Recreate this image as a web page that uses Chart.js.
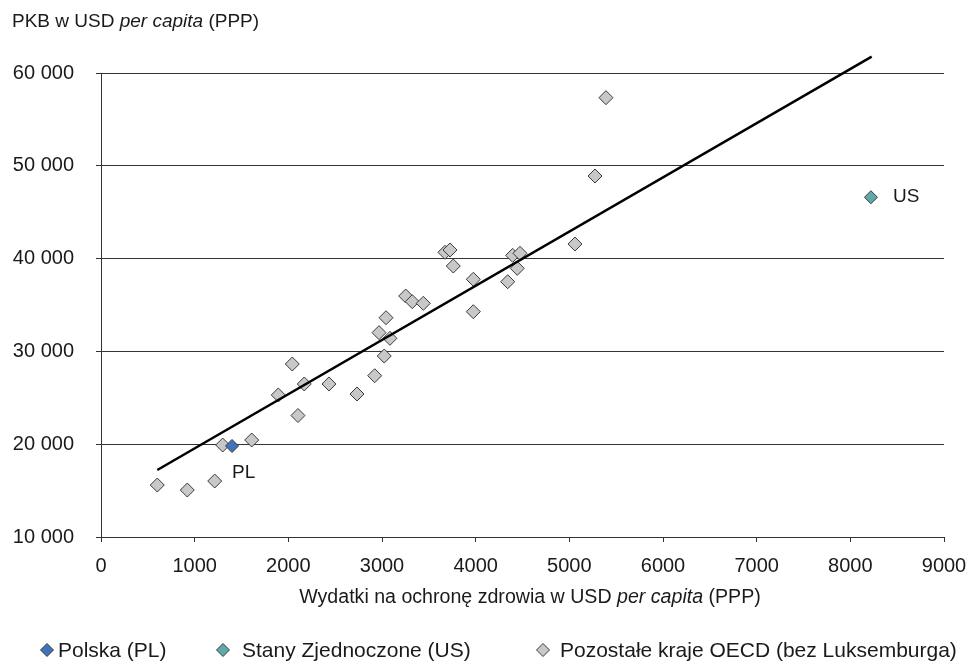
<!DOCTYPE html>
<html><head><meta charset="utf-8">
<script src="https://cdn.jsdelivr.net/npm/chart.js@4.4.0/dist/chart.umd.min.js"></script>
<style>html,body{margin:0;padding:0;background:#fff;}#wrap{width:974px;height:671px;position:relative;}</style>
</head><body><div id="wrap"><canvas id="c"></canvas></div>
<script>
// ---- data ----
const seriesNames = ['Polska (PL)', 'Stany Zjednoczone (US)', 'Pozostałe kraje OECD (bez Luksemburga)'];
const pointLabels = ['PL', 'US'];
const plX = [1399];
const plY = [19810];
const usX = [8220];
const usY = [46610];
const otherX = [601, 921, 1214, 1299, 1609, 1893, 2042, 2170, 2103, 2434, 2733, 2922, 3024, 2968, 3085, 3043, 3253, 3323, 3441, 3975, 3975, 3672, 3726, 3761, 4342, 4395, 4473, 4444, 5060, 5274, 5391];
const otherY = [15600, 15060, 16030, 19910, 20450, 25300, 28640, 26490, 23090, 26490, 25410, 27380, 29500, 32020, 31410, 33630, 35970, 35360, 35180, 37770, 34280, 40680, 40930, 39200, 37510, 40350, 40570, 38950, 41570, 48900, 57340];
const trendX = [601, 8228];
const trendY = [17220, 61756];
const xTicks = [0, 1000, 2000, 3000, 4000, 5000, 6000, 7000, 8000, 9000];
const xTickLabels = ['0', '1000', '2000', '3000', '4000', '5000', '6000', '7000', '8000', '9000'];
const yTicks = [10000, 20000, 30000, 40000, 50000, 60000];
const yTickLabels = ['10 000', '20 000', '30 000', '40 000', '50 000', '60 000'];
const yTitleParts = [['PKB w USD ', 'normal'], ['per capita', 'italic'], [' (PPP)', 'normal']];
const xTitleParts = [['Wydatki na ochronę zdrowia w USD ', 'normal'], ['per capita', 'italic'], [' (PPP)', 'normal']];

// ---- style ----
const FONT = "'Liberation Sans', Arial, sans-serif";
const TXT = '#1a1a1a';
const colPL = '#3F74BA', colUS = '#5FAAA8', colOther = '#C8C8C8', colBorder = '#3a3a3a';

const zip = (xs, ys) => xs.map((x, i) => ({x, y: ys[i]}));

function drawParts(ctx, parts, x, y, size, align) {
  ctx.save();
  ctx.textBaseline = 'middle';
  ctx.fillStyle = TXT;
  let total = 0;
  const widths = parts.map(p => { ctx.font = `${p[1]} ${size}px ${FONT}`; const w = ctx.measureText(p[0]).width; total += w; return w; });
  let cx = align === 'center' ? x - total / 2 : x;
  ctx.textAlign = 'left';
  parts.forEach((p, i) => { ctx.font = `${p[1]} ${size}px ${FONT}`; ctx.fillText(p[0], cx, y); cx += widths[i]; });
  ctx.restore();
}
function diamond(ctx, x, y, r, fill) {
  ctx.beginPath();
  ctx.moveTo(x, y - r); ctx.lineTo(x + r, y); ctx.lineTo(x, y + r); ctx.lineTo(x - r, y); ctx.closePath();
  ctx.fillStyle = fill; ctx.fill();
  ctx.lineWidth = 1; ctx.strokeStyle = colBorder; ctx.stroke();
}

const extras = {
  id: 'extras',
  afterDraw(chart) {
    const ctx = chart.ctx, xs = chart.scales.x, ys = chart.scales.y;
    drawParts(ctx, yTitleParts, 12, 22, 19, 'left');
    drawParts(ctx, xTitleParts, 530, 598, 19.6, 'center');
    // point labels
    ctx.save();
    ctx.font = `19px ${FONT}`; ctx.fillStyle = TXT; ctx.textBaseline = 'middle'; ctx.textAlign = 'left';
    ctx.fillText(pointLabels[0], xs.getPixelForValue(plX[0]) + 0, ys.getPixelForValue(plY[0]) + 27);
    ctx.fillText(pointLabels[1], xs.getPixelForValue(usX[0]) + 22, ys.getPixelForValue(usY[0]));
    ctx.restore();
    // legend
    const leg = [[47, 58, colPL], [223, 242, colUS], [543, 560, colOther]];
    ctx.save();
    leg.forEach((l, i) => {
      diamond(ctx, l[0], 650, 6.5, l[2]);
      ctx.font = `21px ${FONT}`; ctx.fillStyle = TXT; ctx.textBaseline = 'middle'; ctx.textAlign = 'left';
      ctx.fillText(seriesNames[i], l[1], 651);
    });
    ctx.restore();
  }
};

new Chart(document.getElementById('c'), {
  type: 'scatter',
  data: {
    datasets: [
      {label: 'trend', type: 'line', data: zip(trendX, trendY), borderColor: '#000', borderWidth: 2.5, pointRadius: 0, fill: false, clip: false, order: 0},
      {label: seriesNames[0], data: zip(plX, plY), pointStyle: 'rectRot', pointRadius: 6.5, backgroundColor: colPL, borderColor: colBorder, borderWidth: 1, order: 1},
      {label: seriesNames[1], data: zip(usX, usY), pointStyle: 'rectRot', pointRadius: 6.5, backgroundColor: colUS, borderColor: colBorder, borderWidth: 1, order: 2},
      {label: seriesNames[2], data: zip(otherX, otherY), pointStyle: 'rectRot', pointRadius: 7, backgroundColor: colOther, borderColor: colBorder, borderWidth: 1, order: 3}
    ]
  },
  options: {
    responsive: true, maintainAspectRatio: false, animation: false,
    layout: {padding: {left: 0, right: 30, top: 73, bottom: 94}},
    plugins: {legend: {display: false}, tooltip: {enabled: false}},
    scales: {
      x: {
        type: 'linear', min: xTicks[0], max: xTicks[xTicks.length - 1],
        afterBuildTicks: s => { s.ticks = xTicks.map(v => ({value: v})); },
        afterFit: s => { s.height = 40; s.paddingLeft = 0; s.paddingRight = 0; },
        ticks: {callback: (v) => xTickLabels[xTicks.indexOf(v)], color: TXT, font: {family: FONT, size: 20}, padding: 12, maxRotation: 0, autoSkip: false},
        grid: {drawOnChartArea: false, drawTicks: true, tickLength: 5, color: '#333'},
        border: {color: '#333', width: 1}
      },
      y: {
        type: 'linear', min: yTicks[0], max: yTicks[yTicks.length - 1],
        afterBuildTicks: s => { s.ticks = yTicks.map(v => ({value: v})); },
        afterFit: s => { s.width = 101; s.paddingTop = 0; s.paddingBottom = 0; },
        ticks: {callback: (v) => yTickLabels[yTicks.indexOf(v)], color: TXT, font: {family: FONT, size: 20}, padding: 22, autoSkip: false},
        grid: {color: '#333', lineWidth: 1, tickLength: 5, drawTicks: true},
        border: {color: '#333', width: 1}
      }
    }
  },
  plugins: [extras]
});
</script></body></html>
